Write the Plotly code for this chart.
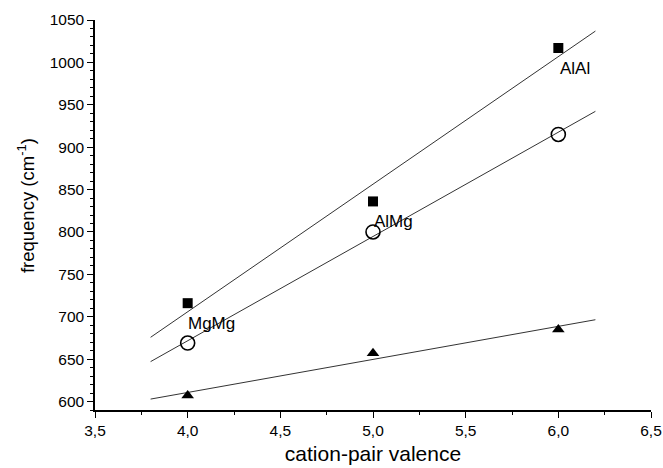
import numpy as np
import plotly.graph_objects as go

# Data
valence = [4.0, 5.0, 6.0]
freq_square = [716, 836, 1017]
freq_circle = [669, 800, 915]
freq_triangle = [607, 657, 685]

# Labels of cation pairs and their positions
pair_labels = ["MgMg", "AlMg", "AlAl"]
label_x = [4.13, 5.11, 6.09]
label_y = [692, 812, 993]

fit_range = [3.8, 6.2]

FONT = "Arial, Liberation Sans, sans-serif"

fig = go.Figure()

def fit_line(y):
    m, c = np.polyfit(valence, y, 1)
    xs = np.array(fit_range)
    return xs, m * xs + c

for ys in (freq_square, freq_circle, freq_triangle):
    xs, yf = fit_line(ys)
    fig.add_trace(go.Scatter(x=xs, y=yf, mode="lines",
                             line=dict(color="#333333", width=1),
                             showlegend=False, hoverinfo="skip"))

fig.add_trace(go.Scatter(x=valence, y=freq_square, mode="markers",
                         marker=dict(symbol="square", size=10, color="black"),
                         showlegend=False))
fig.add_trace(go.Scatter(x=valence, y=freq_circle, mode="markers",
                         marker=dict(symbol="circle-open", size=14, color="black",
                                     line=dict(width=1.6, color="black")),
                         showlegend=False))
fig.add_trace(go.Scatter(x=valence, y=freq_triangle, mode="markers",
                         marker=dict(symbol="triangle-up", size=11, color="black"),
                         showlegend=False))

for t, x, y in zip(pair_labels, label_x, label_y):
    fig.add_annotation(x=x, y=y, text=t, showarrow=False,
                       font=dict(family=FONT, size=17, color="black"))

# y-axis title
fig.add_annotation(xref="paper", yref="paper", x=-0.124, y=0.523,
                   text="frequency (cm<sup>-1</sup>)", textangle=-90,
                   showarrow=False, xanchor="center", yanchor="middle",
                   font=dict(family=FONT, size=18.5, color="black"))

fig.update_layout(
    width=663, height=468,
    margin=dict(l=95, r=12, t=20, b=58),
    plot_bgcolor="white", paper_bgcolor="white",
    separators=", ",
    font=dict(family=FONT, color="black"),
)
fig.update_xaxes(
    range=[3.5, 6.5], dtick=0.5, tick0=3.5, tickformat=".1f",
    automargin=False,
    showgrid=False, zeroline=False,
    showline=True, linecolor="black", linewidth=1.5,
    ticks="outside", ticklen=6, tickwidth=1.3, tickcolor="black",
    minor=dict(ticks="outside", dtick=0.25, ticklen=3, tickwidth=1.2, tickcolor="black"),
    tickfont=dict(family=FONT, size=15.5),
    title=dict(text="cation-pair valence", font=dict(family=FONT, size=21), standoff=8),
)
fig.update_yaxes(
    range=[590, 1050], dtick=50, tick0=600,
    automargin=False,
    showgrid=False, zeroline=False,
    showline=True, linecolor="black", linewidth=1.5,
    ticks="outside", ticklen=6, tickwidth=1.3, tickcolor="black",
    minor=dict(ticks="outside", dtick=10, ticklen=3, tickwidth=1.2, tickcolor="black"),
    tickfont=dict(family=FONT, size=15.5),
)

fig.write_html("out.html")
